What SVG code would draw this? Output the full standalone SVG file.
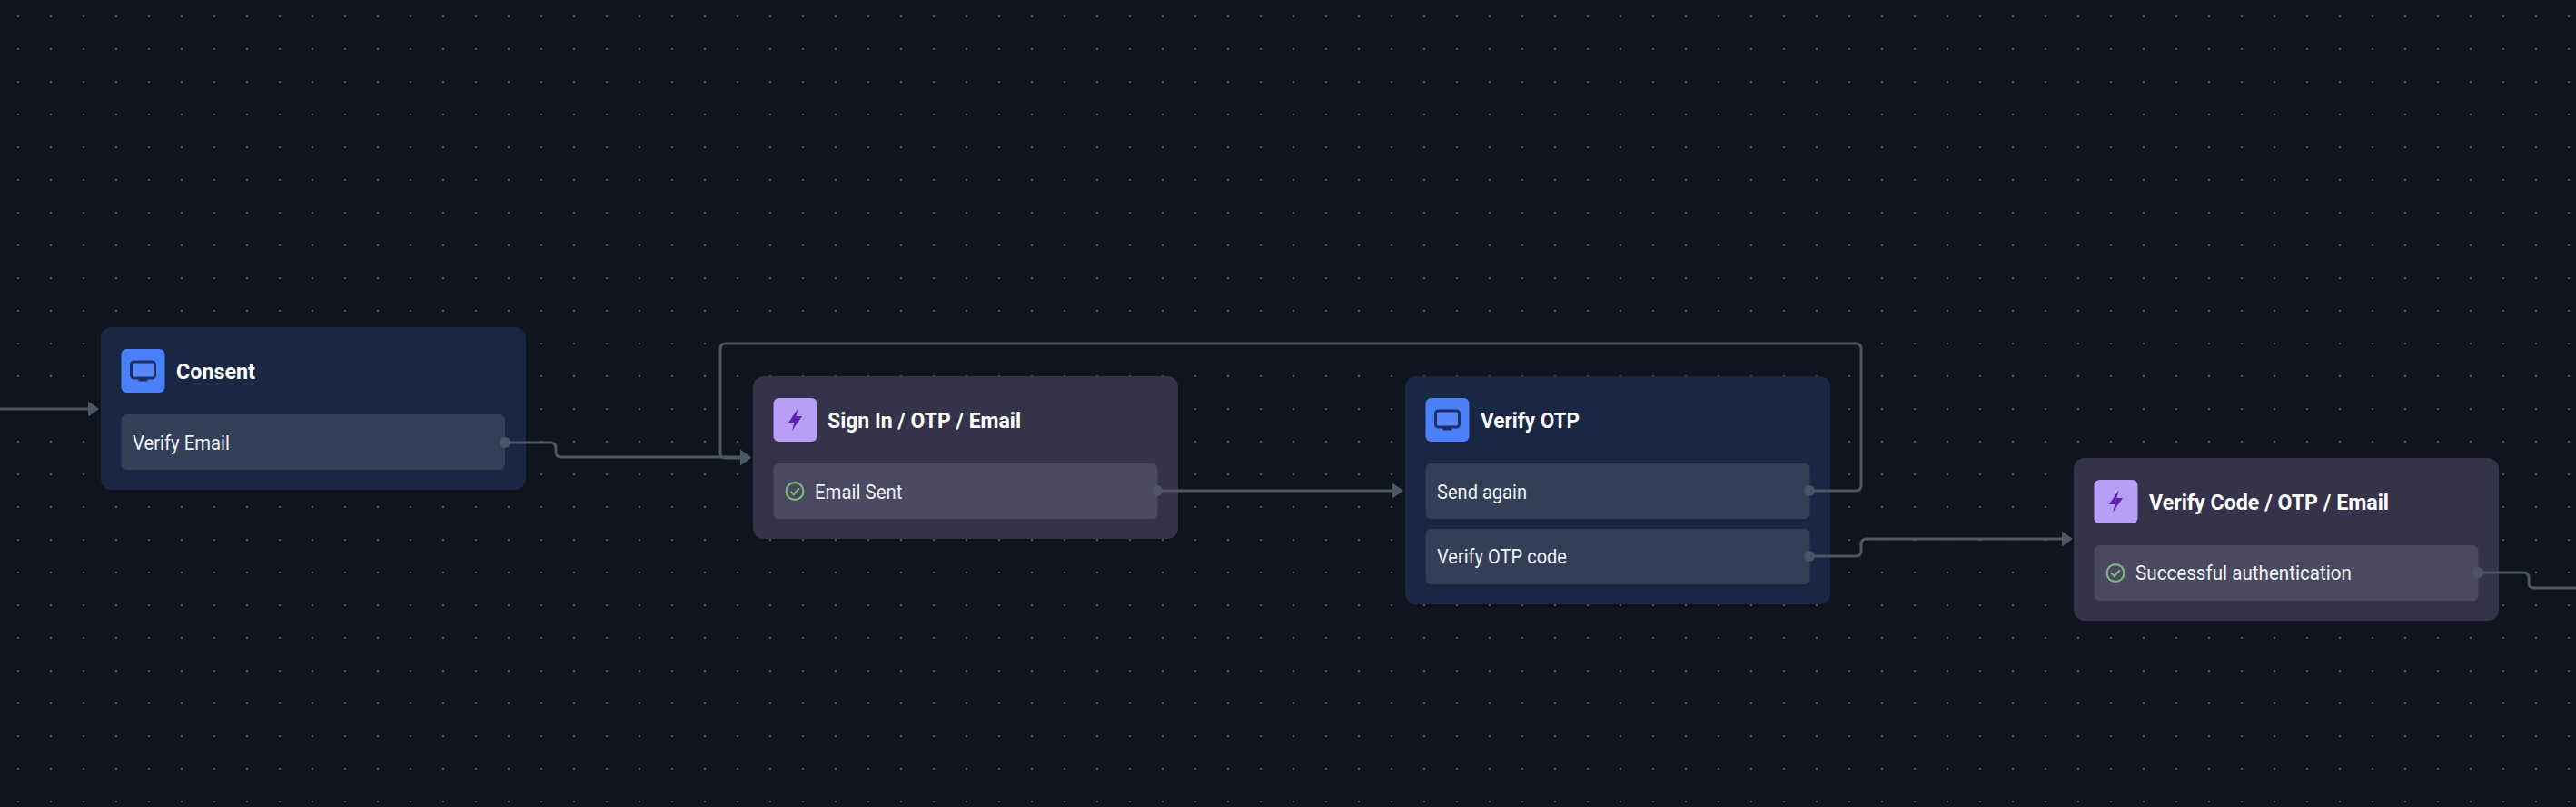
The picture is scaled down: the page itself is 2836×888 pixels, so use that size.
<svg xmlns="http://www.w3.org/2000/svg" width="2836" height="888" viewBox="0 0 2836 888">
<style>
.title{font:700 24px Roboto,"Liberation Sans",sans-serif;fill:#fff}
.lbl{font:400 21.500px Roboto,"Liberation Sans",sans-serif;fill:#eef1f7}
.cn{fill:none;stroke:#4e5765;stroke-width:3}
.h{fill:#4a5568}
.blue{fill:#1a2744}.blue-r{fill:#333e57}
.vio{fill:#35334a}.vio-r{fill:#4b495f}
.ib{fill:#4a80fa}.ip{fill:#b99ef8}
.mon{fill:#5a85fb;stroke:#1c2f66;stroke-width:3}
.st{fill:#1c2f66}
.bolt{fill:#5a22b5}
.chk{fill:none;stroke:#7fb97c;stroke-width:2.100}
</style>
<defs>
<pattern id="dots" width="36" height="36" patternUnits="userSpaceOnUse" x="2" y="0">
<circle cx="18" cy="18" r="1" fill="#5f6575"/>
</pattern>
<marker id="arr" markerUnits="userSpaceOnUse" markerWidth="12" markerHeight="18" refX="0" refY="9" orient="auto">
<path d="M0 0.500L12 9L0 17.500z" fill="#4e5765"/>
</marker>
<g id="monitor">
<rect x="11" y="14" width="26" height="18" rx="3" class="mon"/>
<rect x="19" y="33" width="10" height="2.500" class="st"/>
</g>
<path id="flash" class="bolt" d="M27 11.500L16.500 27H23L20.500 36L31.500 20H25Z"/>
<g id="check">
<circle cx="0" cy="0" r="9.400" class="chk"/>
<path d="M-4.600 0.200L-1.300 3.600L4.800 -3.200" class="chk"/>
</g>
</defs>
<rect width="2836" height="888" fill="#10141f"/>
<rect width="2836" height="888" fill="url(#dots)"/>
<g id="node-consent">
<rect x="111" y="360" width="468" height="179" rx="12" class="blue"/>
<rect x="133.500" y="384" width="48" height="48" rx="6" class="ib"/>
<use href="#monitor" x="133.500" y="384"/>
<text x="194" y="417" class="title" textLength="87" lengthAdjust="spacingAndGlyphs">Consent</text>
<rect x="133.500" y="456" width="422.500" height="61" rx="6" class="blue-r"/>
<text x="146" y="495" class="lbl" textLength="107" lengthAdjust="spacingAndGlyphs">Verify Email</text>
<circle cx="556" cy="487" r="6" class="h"/>
</g>
<g id="node-sign-in">
<rect x="829" y="414" width="468" height="179" rx="12" class="vio"/>
<rect x="851.500" y="438" width="48" height="48" rx="6" class="ip"/>
<use href="#flash" x="851.500" y="438"/>
<text x="911" y="471" class="title" textLength="213" lengthAdjust="spacingAndGlyphs">Sign In / OTP / Email</text>
<rect x="851.500" y="510" width="423" height="61" rx="6" class="vio-r"/>
<use href="#check" x="875" y="540.500"/>
<text x="897" y="549" class="lbl" textLength="96.500" lengthAdjust="spacingAndGlyphs">Email Sent</text>
<circle cx="1274" cy="540" r="6" class="h"/>
</g>
<g id="node-verify-otp">
<rect x="1547" y="414" width="468" height="251" rx="12" class="blue"/>
<rect x="1569.500" y="438" width="48" height="48" rx="6" class="ib"/>
<use href="#monitor" x="1569.500" y="438"/>
<text x="1630" y="471" class="title" textLength="109" lengthAdjust="spacingAndGlyphs">Verify OTP</text>
<rect x="1569.500" y="510" width="423" height="61" rx="6" class="blue-r"/>
<text x="1582" y="549" class="lbl" textLength="99" lengthAdjust="spacingAndGlyphs">Send again</text>
<circle cx="1992" cy="540" r="6" class="h"/>
<rect x="1569.500" y="582" width="423" height="61" rx="6" class="blue-r"/>
<text x="1582" y="620" class="lbl" textLength="143" lengthAdjust="spacingAndGlyphs">Verify OTP code</text>
<circle cx="1992" cy="612" r="6" class="h"/>
</g>
<g id="node-verify-code">
<rect x="2283" y="504" width="468" height="179" rx="12" class="vio"/>
<rect x="2305.500" y="528" width="48" height="48" rx="6" class="ip"/>
<use href="#flash" x="2305.500" y="528"/>
<text x="2366" y="561" class="title" textLength="264" lengthAdjust="spacingAndGlyphs">Verify Code / OTP / Email</text>
<rect x="2305.500" y="600" width="423" height="61" rx="6" class="vio-r"/>
<use href="#check" x="2329" y="630.500"/>
<text x="2351" y="638" class="lbl" textLength="238" lengthAdjust="spacingAndGlyphs">Successful authentication</text>
<circle cx="2728" cy="630" r="6" class="h"/>
</g>
<g id="connectors">
<path class="cn" marker-end="url(#arr)" d="M0 450H97"/>
<path class="cn" marker-end="url(#arr)" d="M560 487H606Q612 487 612 493V497Q612 503 618 503H815"/>
<path class="cn" marker-end="url(#arr)" d="M1996 540H2043Q2049 540 2049 534V384Q2049 378 2043 378H799Q793 378 793 384V498Q793 504 799 504H815"/>
<path class="cn" marker-end="url(#arr)" d="M1278 540H1533"/>
<path class="cn" marker-end="url(#arr)" d="M1996 612H2043Q2049 612 2049 606V599Q2049 593 2055 593H2270"/>
<path class="cn" d="M2732 630H2778Q2784 630 2784 636V641Q2784 647 2790 647H2836"/>
</g>
</svg>
